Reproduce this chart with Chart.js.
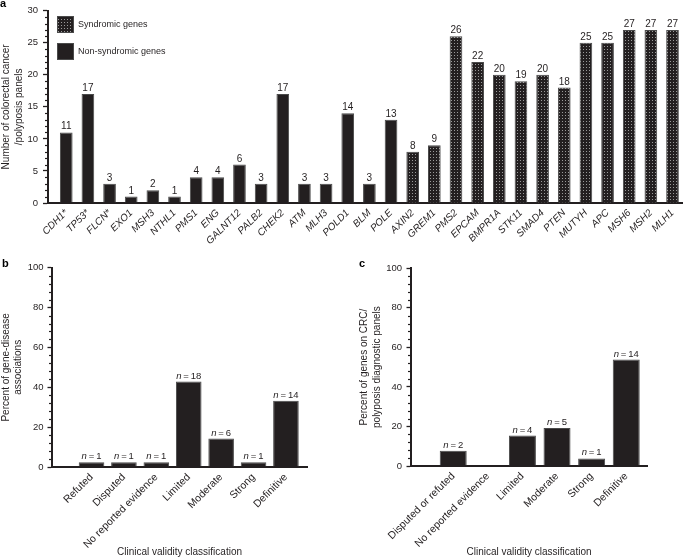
<!DOCTYPE html>
<html>
<head>
<meta charset="utf-8">
<script src="https://cdn.jsdelivr.net/npm/chart.js@4.4.0/dist/chart.umd.min.js"></script>
<style>
  html, body { margin: 0; padding: 0; background: #fff; }
  #page { position: relative; width: 685px; height: 558px; overflow: hidden; }
  canvas { position: absolute; }
</style>
</head>
<body>
<div id="page">
  <canvas id="chartA" width="685" height="250" style="left:0;top:0"></canvas>
  <canvas id="chartB" width="340" height="300" style="left:0;top:258px"></canvas>
  <canvas id="chartC" width="345" height="300" style="left:340px;top:258px"></canvas>
</div>
<script>
// --- panel a: number of CRC/polyposis panels listing each gene ---
const nonSyndromicGenes = ["CDH1*", "TP53*", "FLCN*", "EXO1", "MSH3", "NTHL1", "PMS1", "ENG", "GALNT12",
  "PALB2", "CHEK2", "ATM", "MLH3", "POLD1", "BLM", "POLE"];
const nonSyndromicCounts = [11, 17, 3, 1, 2, 1, 4, 4, 6, 3, 17, 3, 3, 14, 3, 13];
const syndromicGenes = ["AXIN2", "GREM1", "PMS2", "EPCAM", "BMPR1A", "STK11", "SMAD4", "PTEN", "MUTYH",
  "APC", "MSH6", "MSH2", "MLH1"];
const syndromicCounts = [8, 9, 26, 22, 20, 19, 20, 18, 25, 25, 27, 27, 27];
const countTicks = [0, 5, 10, 15, 20, 25, 30];

// --- panel b: gene-disease associations by clinical validity ---
const associationClasses = ["Refuted", "Disputed", "No reported evidence", "Limited", "Moderate", "Strong", "Definitive"];
const associationPercent = [2.4, 2.4, 2.4, 42.9, 14.3, 2.4, 33.3];
const associationN = [1, 1, 1, 18, 6, 1, 14];

// --- panel c: genes on diagnostic panels by clinical validity ---
const panelGeneClasses = ["Disputed or refuted", "No reported evidence", "Limited", "Moderate", "Strong", "Definitive"];
const panelGenePercent = [7.7, null, 15.4, 19.2, 3.8, 53.8];
const panelGeneN = [2, null, 4, 5, 1, 14];
const percentTicks = [0, 20, 40, 60, 80, 100];

const INK = "#231f20";
const FONT = "'Liberation Sans', Arial, Helvetica, sans-serif";
Chart.defaults.font.family = FONT;
Chart.defaults.color = INK;

// dark fill with small light dots for syndromic genes
function dottedFill() {
  const tile = document.createElement("canvas");
  tile.width = 3;
  tile.height = 3;
  const t = tile.getContext("2d");
  t.fillStyle = INK;
  t.fillRect(0, 0, 3, 3);
  t.fillStyle = "#9a9a9a";
  t.fillRect(1, 1, 1, 1);
  return t.createPattern(tile, "repeat");
}

// minor ticks, panel letter, value labels and (panel a) legend
const deco = {
  id: "deco",
  afterDraw(chart, args, o) {
    const ctx = chart.ctx;
    const y = chart.scales.y;
    ctx.save();

    ctx.strokeStyle = INK;
    ctx.lineWidth = 1.2;
    for (let v = y.min; v <= y.max; v += o.minorStep) {
      if (o.majors.includes(v)) continue;
      const py = Math.round(y.getPixelForValue(v)) + 0.5;
      ctx.beginPath();
      ctx.moveTo(y.right - o.minorLen, py);
      ctx.lineTo(y.right, py);
      ctx.stroke();
    }

    ctx.fillStyle = "#000";
    ctx.textBaseline = "alphabetic";
    ctx.textAlign = "left";
    ctx.font = "bold 11px " + FONT;
    ctx.fillText(o.letter, o.letterX, o.letterY);

    // labels above bars
    ctx.fillStyle = INK;
    chart.data.datasets.forEach((ds, di) => {
      chart.getDatasetMeta(di).data.forEach((bar, i) => {
        const lab = ds.valueLabels[i];
        if (lab == null) return;
        const by = bar.y - 3;
        if (o.nPrefix) {
          ctx.font = "italic 9.5px " + FONT;
          const wn = ctx.measureText("n").width;
          ctx.font = "9.5px " + FONT;
          const rest = "\u2009=\u2009" + lab;
          const wr = ctx.measureText(rest).width;
          const x0 = bar.x - (wn + wr) / 2;
          ctx.textAlign = "left";
          ctx.font = "italic 9.5px " + FONT;
          ctx.fillText("n", x0, by);
          ctx.font = "9.5px " + FONT;
          ctx.fillText(rest, x0 + wn, by);
        } else {
          ctx.font = "10px " + FONT;
          ctx.textAlign = "center";
          ctx.fillText(String(lab), bar.x, by);
        }
      });
    });

    if (o.legend) {
      const items = chart.data.datasets.slice().reverse();
      items.forEach((ds, k) => {
        const ly = 16 + k * 27;
        ctx.fillStyle = ds.backgroundColor;
        ctx.fillRect(57, ly, 17, 17);
        ctx.strokeStyle = "#4a4a4a";
        ctx.lineWidth = 1;
        ctx.strokeRect(57.5, ly + 0.5, 16, 16);
        ctx.fillStyle = INK;
        ctx.font = "9px " + FONT;
        ctx.textAlign = "left";
        ctx.textBaseline = "middle";
        ctx.fillText(ds.label, 78, ly + 8.5);
      });
    }
    ctx.restore();
  }
};

function panelOptions(c) {
  return {
    responsive: false,
    animation: false,
    events: [],
    layout: { padding: { top: c.padTop, right: c.padRight, left: 0, bottom: 0 } },
    datasets: {
      bar: {
        grouped: false,
        categoryPercentage: 1,
        barPercentage: c.barPct,
        borderWidth: 1,
        borderColor: "#4a4a4a",
        borderSkipped: "bottom"
      }
    },
    plugins: {
      legend: { display: false },
      tooltip: { enabled: false },
      deco: c.deco
    },
    scales: {
      x: {
        type: "linear",
        offset: false,
        min: c.xMin,
        max: c.xMax,
        afterBuildTicks: s => { s.ticks = c.labels.map((_, i) => ({ value: i })); },
        afterFit: s => { s.height = c.xHeight; },
        grid: { display: false, drawTicks: false, offset: false },
        border: { color: INK, width: 2 },
        ticks: {
          autoSkip: false,
          minRotation: 45,
          maxRotation: 45,
          padding: 4,
          color: INK,
          font: { size: c.xFont, style: c.italic ? "italic" : "normal" },
          callback: v => c.labels[v]
        },
        title: c.xTitle
          ? { display: true, text: c.xTitle, color: INK, font: { size: 10 }, padding: { top: 0, bottom: 0 } }
          : { display: false }
      },
      y: {
        min: 0,
        max: c.yTicks[c.yTicks.length - 1],
        afterBuildTicks: s => { s.ticks = c.yTicks.map(v => ({ value: v })); },
        afterFit: s => { s.width = c.yWidth; },
        grid: { drawOnChartArea: false, drawTicks: true, tickLength: c.majorLen, tickColor: INK, tickWidth: 1.3 },
        border: { color: INK, width: 2 },
        ticks: { padding: c.yPad, color: INK, font: { size: 9.5 } },
        title: {
          display: true,
          text: c.yTitle,
          color: INK,
          font: { size: 10, lineHeight: c.yTitleLH },
          padding: { top: c.yTitlePad, bottom: 0 }
        }
      }
    }
  };
}

// --- chart a ---
const allGenes = nonSyndromicGenes.concat(syndromicGenes);
new Chart(document.getElementById("chartA"), {
  type: "bar",
  data: {
    datasets: [
      {
        label: "Non-syndromic genes",
        data: nonSyndromicCounts.map((v, i) => ({ x: i, y: v })),
        valueLabels: nonSyndromicCounts,
        backgroundColor: INK
      },
      {
        label: "Syndromic genes",
        data: syndromicCounts.map((v, i) => ({ x: i + nonSyndromicGenes.length, y: v })),
        valueLabels: syndromicCounts,
        backgroundColor: dottedFill()
      }
    ]
  },
  options: panelOptions({
    padTop: 9, padRight: 0, barPct: 0.585,
    labels: allGenes, italic: true, xFont: 10, xMin: -0.843, xMax: 28.48, xHeight: 47,
    yTicks: countTicks, yWidth: 48, majorLen: 5, yPad: 5,
    yTitle: ["Number of colorectal cancer", "/polyposis panels"], yTitleLH: 1.35, yTitlePad: -1,
    deco: { minorStep: 1, majors: countTicks, minorLen: 3, letter: "a", letterX: 0, letterY: 7, legend: true }
  }),
  plugins: [deco]
});

// --- chart b ---
new Chart(document.getElementById("chartB"), {
  type: "bar",
  data: {
    datasets: [{
      label: "Gene-disease associations",
      data: associationPercent.map((v, i) => ({ x: i, y: v })),
      valueLabels: associationN,
      backgroundColor: INK
    }]
  },
  options: panelOptions({
    padTop: 9, padRight: 33, barPct: 0.79,
    labels: associationClasses, italic: false, xFont: 10.5, xMin: -1.22, xMax: 6.65, xHeight: 91,
    xTitle: "Clinical validity classification",
    yTicks: percentTicks, yWidth: 52, majorLen: 4.5, yPad: 4,
    yTitle: ["Percent of gene-disease", "associations"], yTitleLH: 1.2, yTitlePad: 0,
    deco: { minorStep: 4, majors: percentTicks, minorLen: 3, letter: "b", letterX: 2, letterY: 9, nPrefix: true }
  }),
  plugins: [deco]
});

// --- chart c ---
new Chart(document.getElementById("chartC"), {
  type: "bar",
  data: {
    datasets: [{
      label: "Genes on panels",
      data: panelGenePercent.map((v, i) => ({ x: i, y: v })),
      valueLabels: panelGeneN,
      backgroundColor: INK
    }]
  },
  options: panelOptions({
    padTop: 9, padRight: 38, barPct: 0.78,
    labels: panelGeneClasses, italic: false, xFont: 10.5, xMin: -1.22, xMax: 5.6, xHeight: 92,
    xTitle: "Clinical validity classification",
    yTicks: percentTicks, yWidth: 71, majorLen: 4.5, yPad: 4.5,
    yTitle: ["Percent of genes on CRC/", "polyposis diagnostic panels"], yTitleLH: 1.3, yTitlePad: 17.5,
    deco: { minorStep: 4, majors: percentTicks, minorLen: 3, letter: "c", letterX: 19, letterY: 9, nPrefix: true }
  }),
  plugins: [deco]
});
</script>
</body>
</html>
